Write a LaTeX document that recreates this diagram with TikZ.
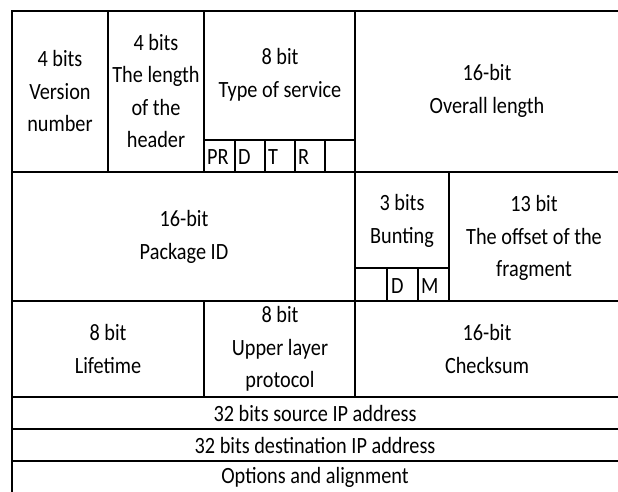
\documentclass[tikz,border=0pt]{standalone}
\usepackage{fontspec}
\setmainfont{Carlito}[FakeStretch=0.87]
\begin{document}
\begin{tikzpicture}[x=1pt,y=-1pt,
  frame/.style={line width=2.8pt},
  subline/.style={line width=1.9pt},
  lbl/.style={align=center,font=\fontsize{23.3}{32.5}\selectfont,inner sep=0pt},
  bitlbl/.style={anchor=west,font=\fontsize{23.3}{24}\selectfont,inner sep=0pt}]
\useasboundingbox (0,0) rectangle (618,491);

% outer frame and row separators
\draw[frame] (12,11) rectangle (620,493);
\draw[frame] (12,172) -- (620,172);
\draw[frame] (12,301) -- (620,301);
\draw[frame] (12,397) -- (620,397);
\draw[frame] (12,429) -- (620,429);
\draw[frame] (12,461) -- (620,461);

% column separators
\draw[frame] (108,11) -- (108,172);
\draw[frame] (204,11) -- (204,172);
\draw[frame] (355,11) -- (355,397);
\draw[frame] (449,172) -- (449,301);
\draw[frame] (204,301) -- (204,397);

% type-of-service bit cells
\draw[subline] (204,140) -- (355,140);
\foreach \x in {235,265,295,325} \draw[subline] (\x,140) -- (\x,172);

% flag bit cells
\draw[subline] (355,268) -- (449,268);
\foreach \x in {387,418} \draw[subline] (\x,268) -- (\x,301);

% row 1
\node[lbl] (ver)  at (60,91)  {4 bits\\Version\\number};
\node[lbl] (hlen) at (156,91) {4 bits\\The length\\of the\\header};
\node[lbl] (tos)  at (280,75) {8 bit\\Type of service};
\node[lbl] (tlen) at (487,91) {16-bit\\Overall length};
\node[bitlbl] (pr) at (207,157) {PR};
\node[bitlbl] (bd) at (238,157) {D};
\node[bitlbl] (bt) at (268,157) {T};
\node[bitlbl] (br) at (298,157) {R};

% row 2
\node[lbl] (pid)   at (184,237) {16-bit\\Package ID};
\node[lbl] (flags) at (402,221) {3 bits\\Bunting};
\node[lbl] (off)   at (534,238) {13 bit\\The offset of the\\fragment};
\node[bitlbl] (fd) at (391,286) {D};
\node[bitlbl] (fm) at (421,286) {M};

% row 3
\node[lbl] (ttl)   at (108,349) {8 bit\\Lifetime};
\node[lbl] (proto) at (280,349) {8 bit\\Upper layer\\protocol};
\node[lbl] (csum)  at (487,349) {16-bit\\Checksum};

% address and option rows
\node[lbl] (src) at (315,413) {32 bits source IP address};
\node[lbl] (dst) at (315,445) {32 bits destination IP address};
\node[lbl] (opt) at (315,477) {Options and alignment};
\end{tikzpicture}
\end{document}
